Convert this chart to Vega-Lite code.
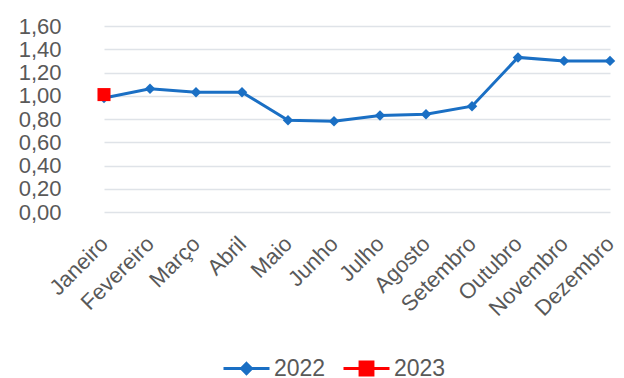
{
  "$schema": "https://vega.github.io/schema/vega-lite/v6.json",
  "autosize": "none",
  "width": 543,
  "height": 186,
  "padding": {"left": 81, "top": 26, "right": 0, "bottom": 166},
  "background": "white",
  "config": {
    "view": {"stroke": null},
    "font": "Liberation Sans",
    "axis": {"labelColor": "#595959", "labelFontSize": 22, "labelFont": "Liberation Sans"},
    "legend": {"padding": 0, "title": null, "labelFontSize": 23, "labelColor": "#595959", "labelOffset": 3, "symbolSize": 2116, "symbolStrokeWidth": 3, "orient": "none"}
  },
  "data": {
    "values": [
      {"mes": "Janeiro", "ano": "2022", "valor": 0.98},
      {"mes": "Fevereiro", "ano": "2022", "valor": 1.06},
      {"mes": "Março", "ano": "2022", "valor": 1.03},
      {"mes": "Abril", "ano": "2022", "valor": 1.03},
      {"mes": "Maio", "ano": "2022", "valor": 0.79},
      {"mes": "Junho", "ano": "2022", "valor": 0.78},
      {"mes": "Julho", "ano": "2022", "valor": 0.83},
      {"mes": "Agosto", "ano": "2022", "valor": 0.84},
      {"mes": "Setembro", "ano": "2022", "valor": 0.91},
      {"mes": "Outubro", "ano": "2022", "valor": 1.33},
      {"mes": "Novembro", "ano": "2022", "valor": 1.30},
      {"mes": "Dezembro", "ano": "2022", "valor": 1.30},
      {"mes": "Janeiro", "ano": "2023", "valor": 1.01}
    ]
  },
  "encoding": {
    "x": {
      "field": "mes", "type": "nominal",
      "sort": ["Janeiro","Fevereiro","Março","Abril","Maio","Junho","Julho","Agosto","Setembro","Outubro","Novembro","Dezembro"],
      "scale": {"type": "point", "range": [23, 529], "padding": 0},
      "axis": {"title": null, "labelAngle": -45, "labelAlign": "right", "labelBaseline": "middle", "ticks": false, "domain": false, "labelPadding": 28}
    },
    "y": {
      "field": "valor", "type": "quantitative",
      "scale": {"domain": [0, 1.6], "nice": false},
      "axis": {"title": null, "values": [0,0.2,0.4,0.6,0.8,1,1.2,1.4,1.6], "labelExpr": "replace(format(datum.value, '.2f'), '.', ',')", "ticks": false, "domain": false, "labelPadding": 20, "gridColor": "#dfe3e8", "gridWidth": 1.3}
    },
    "color": {
      "field": "ano", "type": "nominal",
      "scale": {"domain": ["2022", "2023"], "range": ["#1a6fc4", "#ff0000"]},
      "legend": null
    }
  },
  "layer": [
    {"mark": {"type": "line", "strokeWidth": 3}},
    {
      "mark": {"type": "point", "filled": true, "opacity": 1},
      "encoding": {
        "shape": {"field": "ano", "type": "nominal", "scale": {"domain": ["2022", "2023"], "range": ["diamond", "square"]}, "legend": null},
        "size": {"field": "ano", "type": "nominal", "scale": {"domain": ["2022", "2023"], "range": [110, 170]}, "legend": null}
      }
    },
    {
      "transform": [{"filter": "datum.valor < 0"}],
      "mark": {"type": "point", "filled": true, "opacity": 1},
      "encoding": {
        "shape": {
          "field": "ano", "type": "nominal",
          "scale": {"domain": ["2022"], "range": ["M-1,0H1M0,-0.22L0.22,0L0,0.22L-0.22,0Z"]},
          "legend": {"legendX": 141, "legendY": 318, "symbolFillColor": "#1a6fc4", "symbolStrokeColor": "#1a6fc4", "symbolOpacity": 1}
        }
      }
    },
    {
      "transform": [{"filter": "datum.valor < 0"}],
      "mark": {"type": "point", "filled": true, "opacity": 1},
      "encoding": {
        "shape": {
          "field": "ano", "type": "nominal",
          "scale": {"domain": ["2023"], "range": ["M-1,0H1M-0.28,-0.28H0.28V0.28H-0.28Z"]},
          "legend": {"legendX": 261, "legendY": 318, "symbolFillColor": "#ff0000", "symbolStrokeColor": "#ff0000", "symbolOpacity": 1}
        }
      }
    }
  ],
  "resolve": {"scale": {"shape": "independent", "size": "independent"}, "legend": {"shape": "independent"}}
}
